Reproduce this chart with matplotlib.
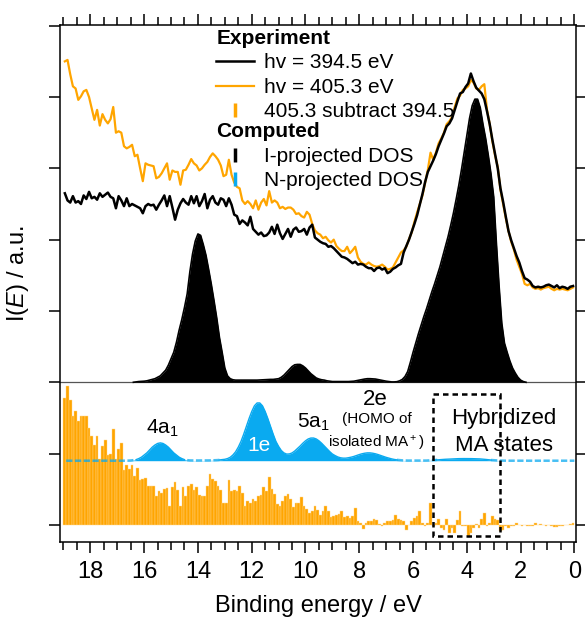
"""Valence photoemission of MAPbI3 vs computed projected DOS"""
import numpy as np
import matplotlib
matplotlib.use('Agg')
import matplotlib.pyplot as plt
from matplotlib.lines import Line2D
from matplotlib.patches import Rectangle
from matplotlib.ticker import MultipleLocator

plt.rcParams['font.family'] = ['Liberation Sans', 'DejaVu Sans']
plt.rcParams['mathtext.fontset'] = 'custom'
plt.rcParams['mathtext.rm'] = 'Liberation Sans'
plt.rcParams['mathtext.it'] = 'Liberation Sans:italic'

# ---- data (binding energy in eV, intensities in panel units) ----
exp_start = 18.95   # first experimental point, 0.1 eV steps towards 0
hv394 = [4.65, 4.55, 4.52, 4.61, 4.52, 4.54, 4.50, 4.62, 4.57, 4.67,
         4.58, 4.60, 4.56, 4.65, 4.60, 4.63, 4.66, 4.60, 4.58, 4.44,
         4.61, 4.55, 4.47, 4.58, 4.47, 4.50, 4.48, 4.46, 4.44, 4.37,
         4.47, 4.50, 4.48, 4.49, 4.42, 4.49, 4.55, 4.62, 4.47, 4.61,
         4.45, 4.28, 4.42, 4.51, 4.57, 4.52, 4.49, 4.61, 4.51, 4.61,
         4.47, 4.54, 4.64, 4.44, 4.56, 4.61, 4.52, 4.49, 4.58, 4.56,
         4.47, 4.58, 4.49, 4.35, 4.33, 4.22, 4.27, 4.24, 4.20, 4.32,
         4.15, 4.11, 4.07, 4.10, 4.05, 4.06, 4.10, 4.18, 4.08, 4.21,
         4.09, 4.01, 4.08, 4.15, 4.04, 4.14, 4.17, 4.11, 4.12, 4.15,
         4.07, 4.17, 4.21, 4.03, 4.00, 3.97, 3.95, 3.94, 3.90, 3.91,
         3.88, 3.84, 3.80, 3.76, 3.75, 3.73, 3.70, 3.67, 3.69, 3.65,
         3.66, 3.65, 3.62, 3.60, 3.60, 3.56, 3.60, 3.61, 3.58, 3.60,
         3.53, 3.55, 3.59, 3.61, 3.64, 3.66, 3.82, 3.91, 4.00, 4.11,
         4.22, 4.34, 4.49, 4.64, 4.81, 4.95, 5.03, 5.11, 5.20, 5.31,
         5.40, 5.49, 5.59, 5.63, 5.70, 5.82, 5.94, 6.05, 6.07, 6.14,
         6.19, 6.33, 6.22, 6.13, 6.09, 6.05, 5.97, 5.80, 5.62, 5.40,
         5.20, 5.00, 4.72, 4.53, 4.32, 4.12, 3.99, 3.88, 3.77, 3.68,
         3.56, 3.46, 3.44, 3.41, 3.35, 3.33, 3.34, 3.33, 3.34, 3.36,
         3.37, 3.35, 3.33, 3.36, 3.32, 3.34, 3.33, 3.31, 3.34, 3.35]
hv405 = [6.50, 6.52, 6.32, 6.15, 6.12, 5.96, 6.01, 6.08, 6.10, 6.00,
         5.84, 5.68, 5.82, 5.60, 5.76, 5.68, 5.63, 5.69, 5.86, 5.50,
         5.52, 5.50, 5.31, 5.28, 5.30, 5.33, 5.17, 5.19, 5.00, 4.82,
         5.07, 5.05, 5.04, 5.03, 4.86, 4.88, 4.93, 5.00, 5.07, 4.84,
         4.97, 4.95, 4.95, 4.77, 4.97, 4.98, 5.05, 5.13, 5.07, 5.04,
         4.97, 5.00, 5.05, 5.09, 5.16, 5.21, 5.17, 5.12, 5.04, 4.89,
         4.91, 5.12, 4.91, 4.80, 4.74, 4.72, 4.55, 4.50, 4.54, 4.50,
         4.44, 4.55, 4.42, 4.52, 4.57, 4.48, 4.68, 4.52, 4.55, 4.52,
         4.44, 4.46, 4.43, 4.45, 4.45, 4.42, 4.36, 4.37, 4.33, 4.31,
         4.39, 4.35, 4.22, 4.13, 4.09, 4.07, 4.02, 4.04, 3.99, 3.96,
         4.00, 3.91, 3.87, 3.84, 3.84, 3.90, 3.81, 3.85, 3.90, 3.75,
         3.69, 3.66, 3.65, 3.68, 3.65, 3.63, 3.62, 3.63, 3.65, 3.62,
         3.58, 3.59, 3.61, 3.68, 3.75, 3.82, 3.85, 3.90, 4.01, 4.10,
         4.25, 4.38, 4.50, 4.62, 4.80, 4.98, 5.22, 5.12, 5.22, 5.35,
         5.42, 5.50, 5.62, 5.66, 5.72, 5.86, 5.98, 6.02, 6.10, 6.12,
         6.15, 6.24, 6.20, 6.12, 6.10, 6.15, 6.18, 5.82, 5.62, 5.38,
         5.18, 5.02, 4.70, 4.50, 4.30, 4.12, 3.97, 3.86, 3.72, 3.62,
         3.52, 3.38, 3.36, 3.38, 3.33, 3.31, 3.32, 3.30, 3.32, 3.33,
         3.34, 3.31, 3.29, 3.31, 3.30, 3.31, 3.30, 3.29, 3.31, 3.33]
diff_405_394 = [1.78, 1.95, 1.75, 1.52, 1.60, 1.45, 1.53, 1.53, 1.52, 1.36,
                1.24, 1.12, 1.25, 0.93, 1.11, 1.19, 0.98, 1.00, 1.34, 0.93,
                1.06, 1.15, 0.77, 0.84, 0.79, 0.84, 0.69, 0.80, 0.63, 0.65,
                0.66, 0.55, 0.55, 0.54, 0.40, 0.47, 0.45, 0.50, 0.52, 0.27,
                0.53, 0.60, 0.49, 0.27, 0.53, 0.41, 0.55, 0.58, 0.49, 0.53,
                0.42, 0.41, 0.41, 0.54, 0.72, 0.64, 0.61, 0.54, 0.49, 0.31,
                0.31, 0.63, 0.47, 0.49, 0.47, 0.54, 0.45, 0.26, 0.34, 0.30,
                0.36, 0.34, 0.40, 0.42, 0.53, 0.47, 0.67, 0.51, 0.43, 0.29,
                0.26, 0.34, 0.40, 0.43, 0.37, 0.25, 0.30, 0.30, 0.39, 0.27,
                0.22, 0.16, 0.20, 0.26, 0.21, 0.14, 0.20, 0.27, 0.19, 0.11,
                0.12, 0.14, 0.15, 0.20, 0.11, 0.12, 0.09, 0.12, 0.23, 0.05,
                0.03, -0.06, 0.02, 0.05, 0.05, 0.08, 0.07, 0.01, -0.02, 0.03,
                0.05, 0.06, 0.07, 0.14, 0.08, 0.07, 0.05, -0.07, 0.00, 0.05,
                0.10, 0.13, 0.19, 0.03, -0.01, 0.03, 0.31, -0.01, 0.03, 0.08,
                -0.05, -0.07, 0.08, -0.11, -0.05, -0.12, 0.07, 0.19, -0.02, -0.02,
                -0.16, -0.12, -0.05, 0.01, -0.05, 0.08, 0.17, -0.02, 0.02, 0.12,
                0.08, 0.07, -0.08, -0.07, -0.02, -0.05, -0.02, -0.01, 0.03, 0.00,
                -0.01, 0.00, -0.02, -0.01, -0.01, 0.03, 0.00, 0.01, 0.00, -0.02,
                0.00, -0.02, -0.03, -0.03, -0.02, -0.02, 0.00, 0.00, 0.01, 0.02]

idos_start = 16.4   # I-projected DOS, 0.1 eV steps
idos = [0.0, 0.005, 0.01, 0.012, 0.015, 0.02, 0.03, 0.04, 0.05, 0.07,
        0.09, 0.13, 0.17, 0.24, 0.33, 0.42, 0.56, 0.73, 0.88, 1.05,
        1.24, 1.55, 1.80, 1.98, 2.08, 2.06, 1.93, 1.78, 1.58, 1.37,
        1.14, 0.90, 0.63, 0.42, 0.20, 0.09, 0.05, 0.035, 0.03, 0.03,
        0.03, 0.03, 0.03, 0.03, 0.03, 0.03, 0.03, 0.032, 0.034, 0.036,
        0.038, 0.04, 0.04, 0.045, 0.05, 0.07, 0.10, 0.14, 0.18, 0.22,
        0.245, 0.25, 0.25, 0.23, 0.20, 0.16, 0.12, 0.09, 0.06, 0.045,
        0.035, 0.03, 0.02, 0.015, 0.01, 0.01, 0.01, 0.01, 0.01, 0.01,
        0.01, 0.012, 0.015, 0.022, 0.03, 0.038, 0.045, 0.05, 0.05, 0.048,
        0.045, 0.038, 0.03, 0.022, 0.015, 0.01, 0.005, 0.005, 0.008, 0.02,
        0.04, 0.08, 0.15, 0.28, 0.42, 0.55, 0.68, 0.80, 0.92, 1.03,
        1.15, 1.27, 1.38, 1.50, 1.62, 1.76, 1.90, 2.04, 2.20, 2.37,
        2.56, 2.76, 2.98, 3.22, 3.45, 3.70, 3.88, 3.97, 3.97, 3.85,
        3.62, 3.42, 3.18, 2.92, 2.60, 1.95, 1.35, 0.83, 0.55, 0.42,
        0.30, 0.20, 0.13, 0.07, 0.03, 0.01, 0.0]

ndos_start = 18.9   # N-projected DOS, 0.1 eV steps
ndos = [0.0] * 21 + [
        0.0, 0.0, 0.002, 0.003, 0.008, 0.015, 0.03, 0.05, 0.08, 0.11,
        0.15, 0.19, 0.22, 0.242, 0.25, 0.242, 0.22, 0.19, 0.15, 0.11,
        0.08, 0.05, 0.03, 0.015, 0.008, 0.004, 0.003, 0.003, 0.003, 0.003,
        0.003, 0.003, 0.004, 0.005, 0.006, 0.008, 0.011, 0.015, 0.02, 0.03,
        0.048, 0.08, 0.125, 0.19, 0.27, 0.37, 0.48, 0.59, 0.69, 0.77,
        0.81, 0.81, 0.77, 0.69, 0.59, 0.48, 0.37, 0.27, 0.20, 0.143,
        0.109, 0.093, 0.095, 0.109, 0.136, 0.17, 0.206, 0.245, 0.279, 0.305,
        0.318, 0.318, 0.305, 0.279, 0.245, 0.206, 0.166, 0.128, 0.094, 0.072,
        0.053, 0.041, 0.036, 0.036, 0.042, 0.05, 0.06, 0.073, 0.086, 0.097,
        0.105, 0.11, 0.11, 0.105, 0.097, 0.086, 0.073, 0.06, 0.047, 0.036,
        0.026, 0.018, 0.012, 0.008, 0.005, 0.003, 0.002, 0.002, 0.002, 0.002,
        0.002, 0.002, 0.002, 0.002, 0.004, 0.006, 0.009, 0.012, 0.015, 0.018,
        0.02, 0.022, 0.024, 0.026, 0.028, 0.029, 0.03, 0.03, 0.03, 0.03,
        0.029, 0.028, 0.027, 0.025, 0.022, 0.018, 0.014, 0.01, 0.007, 0.004,
        0.002, 0.001] + [0.0] * 27

# vertical offsets of the stacked traces
idos_base = 2.0
ndos_base = 0.9
hybrid_box = (2.78, 5.24, -0.16, 1.84)   # e_lo, e_hi, y_lo, y_hi

ORANGE = '#FFA500'
BLUE = '#0AAAF0'

e_exp = exp_start - 0.1 * np.arange(len(hv394))
e_idos = idos_start - 0.1 * np.arange(len(idos))
e_ndos = ndos_start - 0.1 * np.arange(len(ndos))
idos_y = idos_base + np.array(idos)
ndos_y = ndos_base + np.array(ndos)

fig = plt.figure(figsize=(5.85, 6.18), dpi=100)
ax = fig.add_axes([60 / 585, 76 / 618, 516 / 585, 517 / 618])

# difference spectrum as bars
ax.bar(e_exp, diff_405_394, width=0.1, color=ORANGE, edgecolor='#FFD890',
       linewidth=0.3, zorder=1)

# N-projected DOS: filled where it rises, dashed trace where it is flat
ax.fill_between(e_ndos, ndos_base, ndos_y, color=BLUE, linewidth=0, zorder=2)
ax.plot(e_ndos, np.where(np.array(ndos) > 0.012, np.nan, ndos_y), color=BLUE,
        linewidth=1.8, alpha=0.75, linestyle=(0, (2.5, 1)), zorder=2)
ax.plot(e_ndos, np.where(np.array(ndos) > 0.008, ndos_y, np.nan), color=BLUE,
        linewidth=1.0, zorder=2)

# I-projected DOS
ax.axhline(idos_base, color='#555555', linewidth=0.9, zorder=2)
ax.fill_between(e_idos, idos_base, idos_y, color='black', linewidth=0, zorder=3)
ax.plot(e_idos, idos_y, color='black', linewidth=1.2, zorder=3)

# experimental spectra
l405, = ax.plot(e_exp, hv405, color=ORANGE, linewidth=1.6, zorder=4)
l394, = ax.plot(e_exp, hv394, color='black', linewidth=1.8, zorder=5)

# hybridized region box
e_lo, e_hi, y_lo, y_hi = hybrid_box
ax.add_patch(Rectangle((e_lo, y_lo), e_hi - e_lo, y_hi - y_lo, fill=False,
                       edgecolor='black', linewidth=1.8, linestyle=(0, (2.2, 1.6)),
                       zorder=6))

# peak labels
ax.text(15.32, 1.36, '4a$_1$', fontsize=15, ha='center', va='center')
ax.text(11.72, 1.11, '1e', fontsize=15, ha='center', va='center', color='white', zorder=7)
ax.text(9.72, 1.44, '5a$_1$', fontsize=15, ha='center', va='center')
ax.text(7.41, 1.76, '2e', fontsize=16, ha='center', va='center')
ax.text(7.34, 1.48, '(HOMO of', fontsize=11, ha='center', va='center')
ax.text(7.38, 1.14, 'isolated MA$^+$)', fontsize=11, ha='center', va='center')
ax.text(2.61, 1.49, 'Hybridized', fontsize=16, ha='center', va='center')
ax.text(2.61, 1.11, 'MA states', fontsize=16, ha='center', va='center')

# legends
bar_h = Line2D([], [], linestyle='none', marker='|', color=ORANGE, markersize=10, markeredgewidth=2.5)
idos_h = Line2D([], [], linestyle='none', marker='|', color='black', markersize=10, markeredgewidth=2.5)
ndos_h = Line2D([], [], linestyle='none', marker='|', color=BLUE, markersize=10, markeredgewidth=2.5)
leg_kw = dict(loc='upper left', frameon=False, alignment='left', fontsize=15,
              title_fontproperties={'weight': 'bold', 'size': 15},
              handlelength=1.8, handletextpad=0.48, labelspacing=0.27,
              borderpad=0, borderaxespad=0)
leg1 = ax.legend([l394, l405, bar_h],
                 ['hv = 394.5 eV', 'hv = 405.3 eV', '405.3 subtract 394.5'],
                 title='Experiment', bbox_to_anchor=(0.303, 0.993), **leg_kw)
ax.add_artist(leg1)
ax.legend([idos_h, ndos_h], ['I-projected DOS', 'N-projected DOS'],
          title='Computed', bbox_to_anchor=(0.303, 0.812), **leg_kw)

# axes styling
ax.set_xlim(19.13, -0.06)
ax.set_ylim(-0.24, 7.01)
ax.xaxis.set_major_locator(MultipleLocator(2))
ax.xaxis.set_minor_locator(MultipleLocator(0.5))
ax.yaxis.set_major_locator(MultipleLocator(1))
ax.tick_params(which='both', direction='out', top=True, right=True, width=1.1)
ax.tick_params(which='major', length=8, labelsize=17, pad=6)
ax.tick_params(which='minor', length=5.5)
ax.tick_params(axis='y', labelleft=False)
for s in ax.spines.values():
    s.set_linewidth(1.1)

ax.set_xlabel('Binding energy / eV', fontsize=17, labelpad=8)
ax.set_ylabel('I($\\mathit{E}$) / a.u.', fontsize=17)
ax.yaxis.set_label_coords(-0.056, 0.52)

fig.savefig('out.png', dpi=100)
